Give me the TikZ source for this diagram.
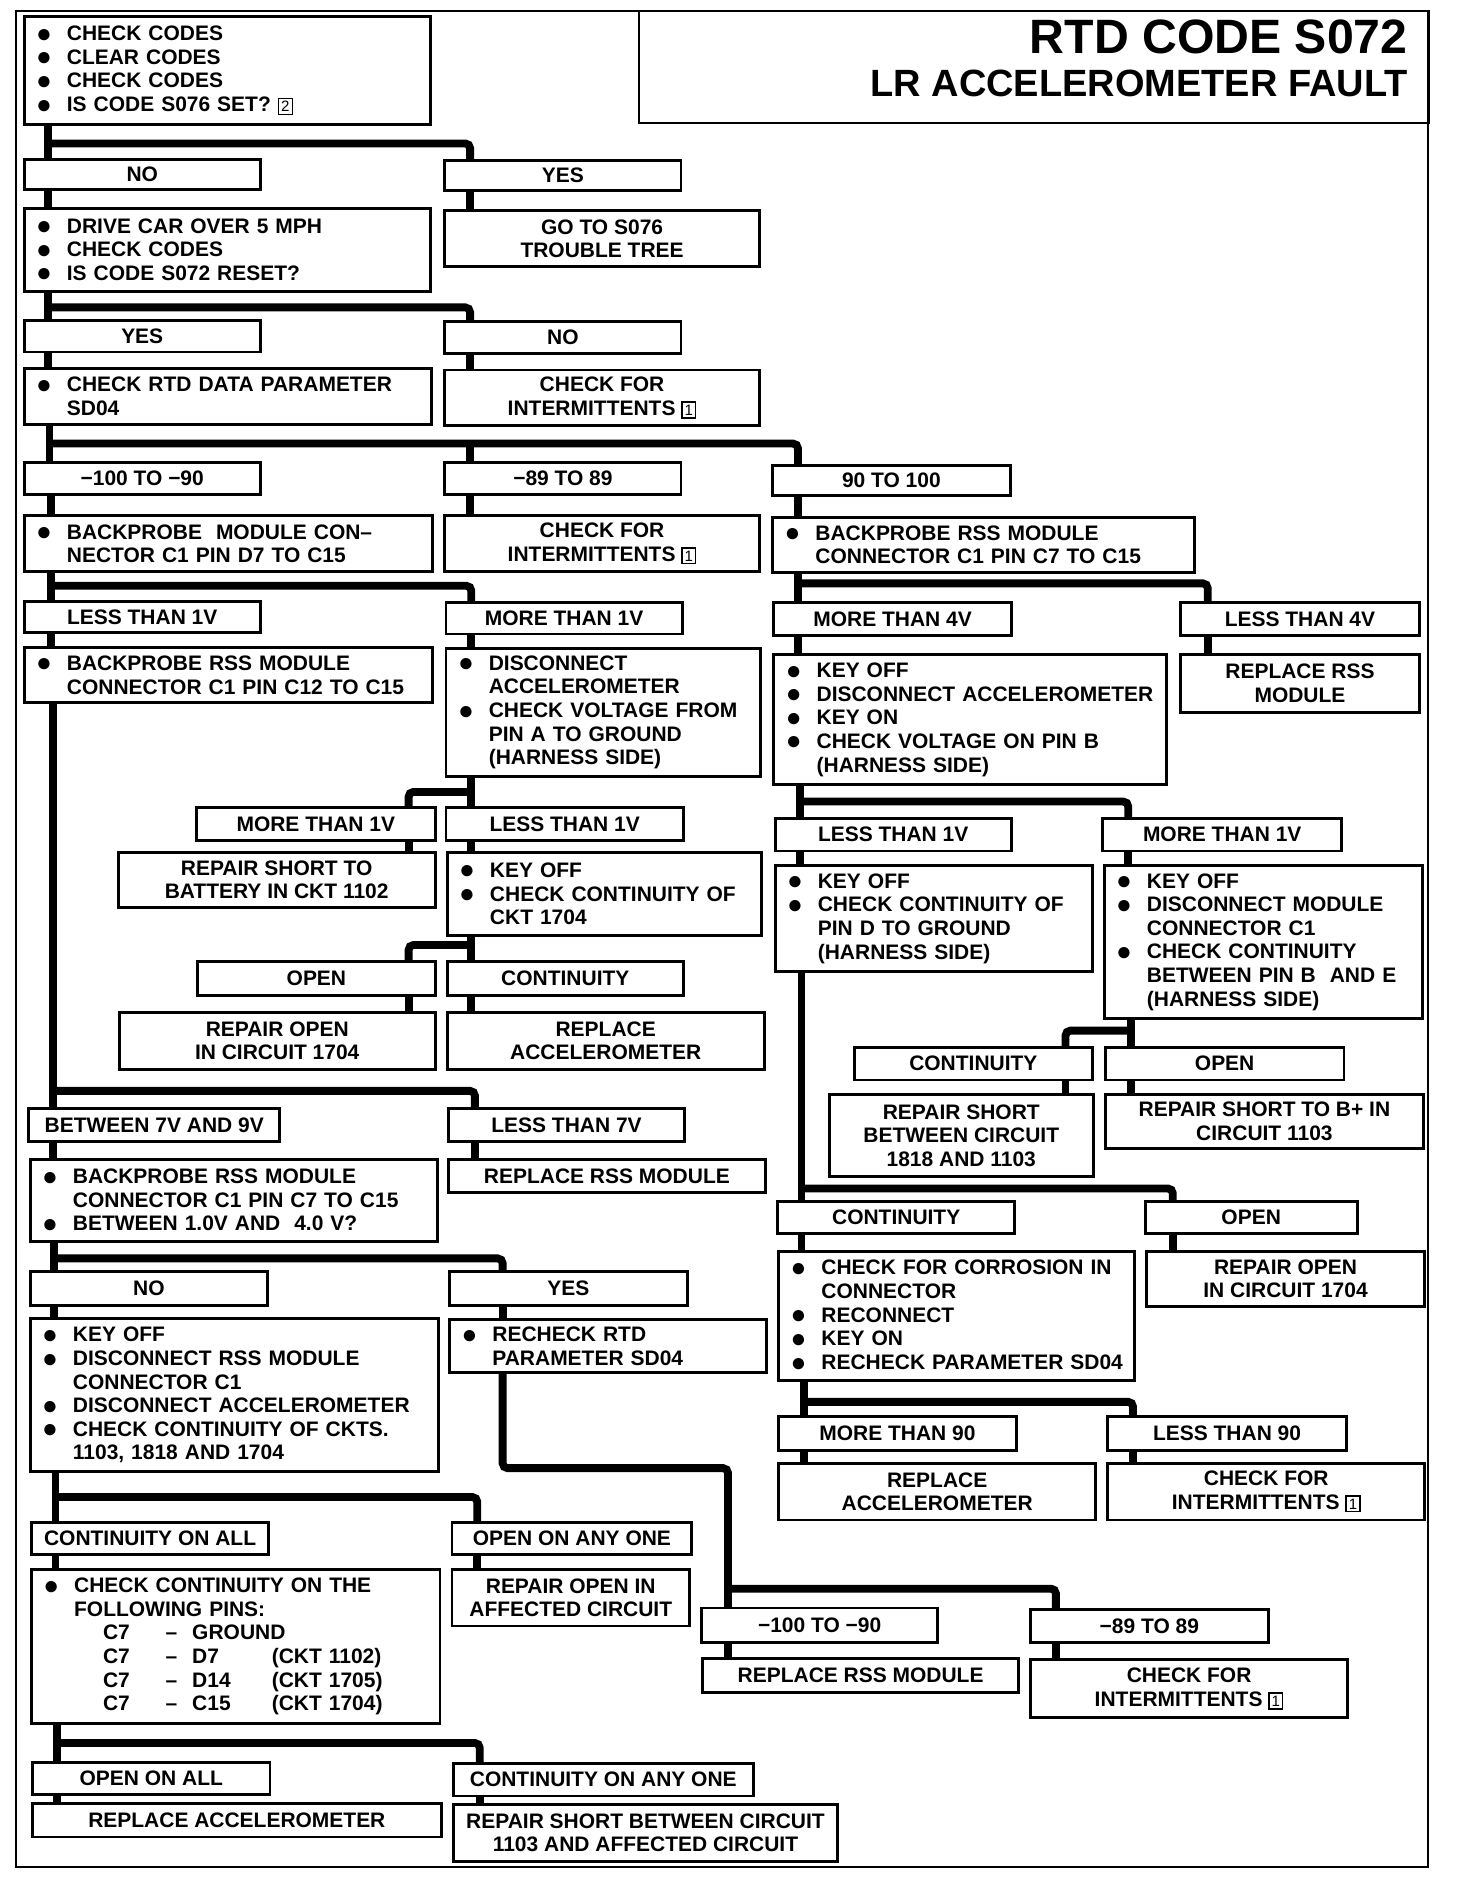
\documentclass[tikz,border=0pt]{standalone}
\usepackage{fontspec}
\setmainfont{Liberation Sans}
\usepackage{tikz}
\usetikzlibrary{calc}

\newcommand{\bitem}[1]{\mbox{\makebox[25.5pt][l]{\raisebox{-1.3pt}{\scalebox{1.25}{●}}}#1}}
\newcommand{\bcont}[1]{\mbox{\hspace*{25.5pt}#1}}
\newcommand{\noteref}[1]{{\setlength{\fboxsep}{1.6pt}\setlength{\fboxrule}{1.2pt}\fbox{\fontsize{12.5}{12.5}\selectfont\mdseries #1}}}
\newcommand{\pinrow}[3]{\bcont{\hspace*{24pt}\makebox[52pt][l]{#1}\makebox[22pt][l]{–}\makebox[66pt][l]{#2}#3}}

\begin{document}
\begin{tikzpicture}[x=1pt, y=-1pt,
    box/.style={draw, line width=2.4pt, anchor=north west, inner sep=0pt, outer sep=0pt,
                align=center, font=\fontsize{17.4}{19.6}\selectfont\bfseries},
    blist/.style={box, align=left},
    link/.style={line width=6.5pt, rounded corners=4pt}]
    \useasboundingbox (0,0) rectangle (1208,1568);

    % Frame and title
    \draw[line width=1.8pt] (13,9) rectangle (1185,1549);
    \node[draw, line width=2.2pt, anchor=north west, inner sep=0pt, outer sep=0pt,
          minimum width=655pt, minimum height=93pt] (title) at (530,9) {};
    \node[anchor=base east, inner sep=0pt, font=\fontsize{40}{44}\selectfont\bfseries] (tline1) at (1168,44) {RTD CODE S072};
    \node[anchor=base east, inner sep=0pt, font=\fontsize{31.5}{36}\selectfont\bfseries] (tline2) at (1168,80) {LR ACCELEROMETER FAULT};

    % Start
    \node[blist, minimum width=337pt, minimum height=89pt, text width=317pt] (qa) at (20,14)
        {\bitem{CHECK CODES}\\ \bitem{CLEAR CODES}\\ \bitem{CHECK CODES}\\ \bitem{IS CODE S076 SET? \noteref{2}}};
    \node[box, minimum width=196pt, minimum height=25pt] (noA) at (20,132) {NO};
    \node[box, minimum width=196pt, minimum height=25pt] (yesA) at (369,133) {YES};
    \node[blist, minimum width=337pt, minimum height=69pt, text width=317pt] (drive) at (20,173)
        {\bitem{DRIVE CAR OVER 5 MPH}\\ \bitem{CHECK CODES}\\ \bitem{IS CODE S072 RESET?}};
    \node[box, minimum width=261pt, minimum height=46pt] (goto) at (369,175) {GO TO S076\\ TROUBLE TREE};

    % Reset check
    \node[box, minimum width=196pt, minimum height=26pt] (yesB) at (20,266) {YES};
    \node[box, minimum width=196pt, minimum height=26pt] (noB) at (369,267) {NO};
    \node[blist, minimum width=338pt, minimum height=46pt, text width=318pt] (rtd) at (20,306)
        {\bitem{CHECK RTD DATA PARAMETER}\\ \bcont{SD04}};
    \node[box, minimum width=261pt, minimum height=46pt] (interA) at (369,307) {CHECK FOR\\ INTERMITTENTS \noteref{1}};

    % SD04 ranges
    \node[box, minimum width=196pt, minimum height=26pt] (rngA) at (20,384) {−100 TO −90};
    \node[box, minimum width=196pt, minimum height=26pt] (rngB) at (369,384) {−89 TO 89};
    \node[box, minimum width=197pt, minimum height=25pt] (rngC) at (641,386) {90 TO 100};
    \node[blist, minimum width=339pt, minimum height=46pt, text width=319pt] (probeA) at (20,428)
        {\bitem{BACKPROBE\ \ MODULE CON–}\\ \bcont{NECTOR C1 PIN D7 TO C15}};
    \node[box, minimum width=261pt, minimum height=46pt] (interB) at (369,428) {CHECK FOR\\ INTERMITTENTS \noteref{1}};
    \node[blist, minimum width=350pt, minimum height=46pt, text width=330pt] (probeC) at (641,429)
        {\bitem{BACKPROBE RSS MODULE}\\ \bcont{CONNECTOR C1 PIN C7 TO C15}};

    % Voltage results
    \node[box, minimum width=196pt, minimum height=26pt] (lt1a) at (20,499) {LESS THAN 1V};
    \node[box, minimum width=196pt, minimum height=26pt] (mt1a) at (370,500) {MORE THAN 1V};
    \node[box, minimum width=197pt, minimum height=27pt] (mt4) at (642,500) {MORE THAN 4V};
    \node[box, minimum width=199pt, minimum height=27pt] (lt4) at (979,500) {LESS THAN 4V};
    \node[blist, minimum width=339pt, minimum height=46pt, text width=319pt] (probeB) at (20,537)
        {\bitem{BACKPROBE RSS MODULE}\\ \bcont{CONNECTOR C1 PIN C12 TO C15}};
    \node[blist, minimum width=261pt, minimum height=106pt, text width=241pt] (discA) at (370,538)
        {\bitem{DISCONNECT}\\ \bcont{ACCELEROMETER}\\ \bitem{CHECK VOLTAGE FROM}\\ \bcont{PIN A TO GROUND}\\ \bcont{(HARNESS SIDE)}};
    \node[blist, minimum width=326pt, minimum height=108pt, text width=306pt] (keyA) at (642,543)
        {\bitem{KEY OFF}\\ \bitem{DISCONNECT ACCELEROMETER}\\ \bitem{KEY ON}\\ \bitem{CHECK VOLTAGE ON PIN B}\\ \bcont{(HARNESS SIDE)}};
    \node[box, minimum width=199pt, minimum height=48pt] (rssA) at (979,543) {REPLACE RSS\\ MODULE};

    % Pin A and pin B checks
    \node[box, minimum width=198pt, minimum height=27pt] (mt1b) at (163,670) {MORE THAN 1V};
    \node[box, minimum width=197pt, minimum height=27pt] (lt1b) at (370,670) {LESS THAN 1V};
    \node[box, minimum width=196pt, minimum height=27pt] (lt1c) at (643,679) {LESS THAN 1V};
    \node[box, minimum width=198pt, minimum height=27pt] (mt1c) at (915,679) {MORE THAN 1V};
    \node[box, minimum width=263pt, minimum height=46pt] (shortA) at (98,707) {REPAIR SHORT TO\\ BATTERY IN CKT 1102};
    \node[blist, minimum width=261pt, minimum height=69pt, text width=241pt] (keyB) at (371,707)
        {\bitem{KEY OFF}\\ \bitem{CHECK CONTINUITY OF}\\ \bcont{CKT 1704}};
    \node[blist, minimum width=263pt, minimum height=88pt, text width=243pt] (keyC) at (643,718)
        {\bitem{KEY OFF}\\ \bitem{CHECK CONTINUITY OF}\\ \bcont{PIN D TO GROUND}\\ \bcont{(HARNESS SIDE)}};
    \node[blist, minimum width=264pt, minimum height=127pt, text width=244pt] (keyD) at (916,718)
        {\bitem{KEY OFF}\\ \bitem{DISCONNECT MODULE}\\ \bcont{CONNECTOR C1}\\ \bitem{CHECK CONTINUITY}\\ \bcont{BETWEEN PIN B\ \ AND E}\\ \bcont{(HARNESS SIDE)}};

    % Circuit 1704 check
    \node[box, minimum width=197pt, minimum height=28pt] (openA) at (164,798) {OPEN};
    \node[box, minimum width=196pt, minimum height=28pt] (contA) at (371,798) {CONTINUITY};
    \node[box, minimum width=262pt, minimum height=47pt] (repOpenA) at (99,840) {REPAIR OPEN\\ IN CIRCUIT 1704};
    \node[box, minimum width=263pt, minimum height=47pt] (accelA) at (371,840) {REPLACE\\ ACCELEROMETER};
    \node[box, minimum width=197pt, minimum height=27pt] (contB) at (709,869) {CONTINUITY};
    \node[box, minimum width=198pt, minimum height=27pt] (openB) at (917,869) {OPEN};
    \node[box, minimum width=219pt, minimum height=68pt] (shortB) at (688,908) {REPAIR SHORT\\ BETWEEN CIRCUIT\\ 1818 AND 1103};
    \node[box, minimum width=264pt, minimum height=45pt] (shortC) at (917,908) {REPAIR SHORT TO B+ IN\\ CIRCUIT 1103};

    % Pin C12 result
    \node[box, minimum width=208pt, minimum height=27pt] (v79) at (24,920) {BETWEEN 7V AND 9V};
    \node[box, minimum width=196pt, minimum height=27pt] (lt7) at (372,920) {LESS THAN 7V};
    \node[blist, minimum width=338pt, minimum height=68pt, text width=318pt] (probeD) at (25,962)
        {\bitem{BACKPROBE RSS MODULE}\\ \bcont{CONNECTOR C1 PIN C7 TO C15}\\ \bitem{BETWEEN 1.0V AND\ \ 4.0 V?}};
    \node[box, minimum width=263pt, minimum height=27pt] (rssB) at (372,962) {REPLACE RSS MODULE};
    \node[box, minimum width=197pt, minimum height=26pt] (contC) at (645,997) {CONTINUITY};
    \node[box, minimum width=176pt, minimum height=26pt] (openC) at (950,997) {OPEN};
    \node[blist, minimum width=295pt, minimum height=107pt, text width=275pt] (corr) at (646,1038)
        {\bitem{CHECK FOR CORROSION IN}\\ \bcont{CONNECTOR}\\ \bitem{RECONNECT}\\ \bitem{KEY ON}\\ \bitem{RECHECK PARAMETER SD04}};
    \node[box, minimum width=231pt, minimum height=46pt] (repOpenB) at (951,1038) {REPAIR OPEN\\ IN CIRCUIT 1704};

    % Pin C7 result
    \node[box, minimum width=197pt, minimum height=28pt] (noC) at (25,1055) {NO};
    \node[box, minimum width=197pt, minimum height=28pt] (yesC) at (373,1055) {YES};
    \node[blist, minimum width=339pt, minimum height=127pt, text width=319pt] (keyE) at (25,1094)
        {\bitem{KEY OFF}\\ \bitem{DISCONNECT RSS MODULE}\\ \bcont{CONNECTOR C1}\\ \bitem{DISCONNECT ACCELEROMETER}\\ \bitem{CHECK CONTINUITY OF CKTS.}\\ \bcont{1103, 1818 AND 1704}};
    \node[blist, minimum width=263pt, minimum height=44pt, text width=243pt] (recheck) at (373,1095)
        {\bitem{RECHECK RTD}\\ \bcont{PARAMETER SD04}};
    \node[box, minimum width=197pt, minimum height=28pt] (mt90) at (646,1175) {MORE THAN 90};
    \node[box, minimum width=198pt, minimum height=28pt] (lt90) at (919,1175) {LESS THAN 90};
    \node[box, minimum width=263pt, minimum height=47pt] (accelB) at (646,1214) {REPLACE\\ ACCELEROMETER};
    \node[box, minimum width=263pt, minimum height=47pt] (interC) at (919,1214) {CHECK FOR\\ INTERMITTENTS \noteref{1}};

    % Continuity of circuits
    \node[box, minimum width=197pt, minimum height=27pt] (contAll) at (26,1263) {CONTINUITY ON ALL};
    \node[box, minimum width=199pt, minimum height=27pt] (openAny) at (375,1263) {OPEN ON ANY ONE};
    \node[blist, minimum width=339pt, minimum height=128pt, text width=319pt] (pins) at (26,1302)
        {\bitem{CHECK CONTINUITY ON THE}\\ \bcont{FOLLOWING PINS:}\\ \pinrow{C7}{GROUND}{}\\
         \pinrow{C7}{D7}{(CKT 1102)}\\ \pinrow{C7}{D14}{(CKT 1705)}\\ \pinrow{C7}{C15}{(CKT 1704)}};
    \node[box, minimum width=197pt, minimum height=47pt] (repAff) at (375,1302) {REPAIR OPEN IN\\ AFFECTED CIRCUIT};
    \node[box, minimum width=196pt, minimum height=29pt] (rngD) at (582,1334) {−100 TO −90};
    \node[box, minimum width=197pt, minimum height=28pt] (rngE) at (855,1335) {−89 TO 89};
    \node[box, minimum width=262pt, minimum height=28pt] (rssC) at (583,1376) {REPLACE RSS MODULE};
    \node[box, minimum width=263pt, minimum height=48pt] (interD) at (855,1377) {CHECK FOR\\ INTERMITTENTS \noteref{1}};

    % Short check
    \node[box, minimum width=197pt, minimum height=27pt] (openAll) at (27,1462) {OPEN ON ALL};
    \node[box, minimum width=249pt, minimum height=27pt] (contAny) at (376,1463) {CONTINUITY ON ANY ONE};
    \node[box, minimum width=339pt, minimum height=28pt] (accelC) at (27,1496) {REPLACE ACCELEROMETER};
    \node[box, minimum width=319pt, minimum height=47pt] (shortD) at (376,1497) {REPAIR SHORT BETWEEN CIRCUIT\\ 1103 AND AFFECTED CIRCUIT};

    % Branch points
    \coordinate (j1) at (40,119);   \coordinate (k1) at (390,119);
    \coordinate (j2) at (40,255);   \coordinate (k2) at (390,255);
    \coordinate (j3) at (41,368);   \coordinate (m3) at (390,368);  \coordinate (k3) at (662,368);
    \coordinate (j4) at (42,486);   \coordinate (k4) at (391,486);
    \coordinate (j5) at (662,484);  \coordinate (k5) at (1002,484);
    \coordinate (j6) at (391,657);  \coordinate (k6) at (339,657);
    \coordinate (j7) at (664,665);  \coordinate (k7) at (936,665);
    \coordinate (j8) at (391,784);  \coordinate (k8) at (339,784);
    \coordinate (j9) at (44,905);   \coordinate (k9) at (394,905);
    \coordinate (j10) at (938,855); \coordinate (k10) at (884,855);
    \coordinate (j11) at (665,986); \coordinate (k11) at (973,986);
    \coordinate (j12) at (45,1044); \coordinate (k12) at (417,1044);
    \coordinate (j13) at (667,1163); \coordinate (k13) at (940,1163);
    \coordinate (bend14) at (604,1218); \coordinate (j14) at (604,1318); \coordinate (k14) at (876,1318);
    \coordinate (j15) at (46,1242); \coordinate (k15) at (396,1242);
    \coordinate (j16) at (47,1446); \coordinate (k16) at (398,1446);

    % Connectors
    \draw[link] (qa.south -| j1) -- (noA.north -| j1);
    \draw[link] (j1) -- (k1) -- (yesA.north -| k1);
    \draw[link] (noA.south -| j1) -- (drive.north -| j1);
    \draw[link] (yesA.south -| k1) -- (goto.north -| k1);

    \draw[link] (drive.south -| j2) -- (yesB.north -| j2);
    \draw[link] (j2) -- (k2) -- (noB.north -| k2);
    \draw[link] (yesB.south -| j2) -- (rtd.north -| j2);
    \draw[link] (noB.south -| k2) -- (interA.north -| k2);

    \draw[link] (rtd.south -| j3) -- (rngA.north -| j3);
    \draw[link] (j3) -- (k3) -- (rngC.north -| k3);
    \draw[link] (m3) -- (rngB.north -| m3);
    \draw[link] (rngA.south -| j4) -- (probeA.north -| j4);
    \draw[link] (rngB.south -| m3) -- (interB.north -| m3);
    \draw[link] (rngC.south -| k3) -- (probeC.north -| k3);

    \draw[link] (probeA.south -| j4) -- (lt1a.north -| j4);
    \draw[link] (j4) -- (k4) -- (mt1a.north -| k4);
    \draw[link] (lt1a.south -| j4) -- (probeB.north -| j4);
    \draw[link] (mt1a.south -| k4) -- (discA.north -| k4);

    \draw[link] (probeC.south -| j5) -- (mt4.north -| j5);
    \draw[link] (j5) -- (k5) -- (lt4.north -| k5);
    \draw[link] (mt4.south -| j5) -- (keyA.north -| j5);
    \draw[link] (lt4.south -| k5) -- (rssA.north -| k5);

    \draw[link] (discA.south -| j6) -- (lt1b.north -| j6);
    \draw[link] (j6) -- (k6) -- (mt1b.north -| k6);
    \draw[link] (mt1b.south -| k6) -- (shortA.north -| k6);
    \draw[link] (lt1b.south -| j6) -- (keyB.north -| j6);

    \draw[link] (keyA.south -| j7) -- (lt1c.north -| j7);
    \draw[link] (j7) -- (k7) -- (mt1c.north -| k7);
    \draw[link] (lt1c.south -| j7) -- (keyC.north -| j7);
    \draw[link] (mt1c.south -| k7) -- (keyD.north -| k7);

    \draw[link] (keyB.south -| j8) -- (contA.north -| j8);
    \draw[link] (j8) -- (k8) -- (openA.north -| k8);
    \draw[link] (openA.south -| k8) -- (repOpenA.north -| k8);
    \draw[link] (contA.south -| j8) -- (accelA.north -| j8);

    \draw[link] (probeB.south -| j9) -- (v79.north -| j9);
    \draw[link] (j9) -- (k9) -- (lt7.north -| k9);
    \draw[link] (v79.south -| j9) -- (probeD.north -| j9);
    \draw[link] (lt7.south -| k9) -- (rssB.north -| k9);

    \draw[link] (keyD.south -| j10) -- (openB.north -| j10);
    \draw[link] (j10) -- (k10) -- (contB.north -| k10);
    \draw[link] (contB.south -| k10) -- (shortB.north -| k10);
    \draw[link] (openB.south -| j10) -- (shortC.north -| j10);

    \draw[link] (keyC.south -| j11) -- (contC.north -| j11);
    \draw[link] (j11) -- (k11) -- (openC.north -| k11);
    \draw[link] (contC.south -| j11) -- (corr.north -| j11);
    \draw[link] (openC.south -| k11) -- (repOpenB.north -| k11);

    \draw[link] (probeD.south -| j12) -- (noC.north -| j12);
    \draw[link] (j12) -- (k12) -- (yesC.north -| k12);
    \draw[link] (noC.south -| j12) -- (keyE.north -| j12);
    \draw[link] (yesC.south -| k12) -- (recheck.north -| k12);

    \draw[link] (corr.south -| j13) -- (mt90.north -| j13);
    \draw[link] (j13) -- (k13) -- (lt90.north -| k13);
    \draw[link] (mt90.south -| j13) -- (accelB.north -| j13);
    \draw[link] (lt90.south -| k13) -- (interC.north -| k13);

    \draw[link] (recheck.south -| k12) |- (bend14) -- (rngD.north -| bend14);
    \draw[link] (j14) -- (k14) -- (rngE.north -| k14);
    \draw[link] (rngD.south -| j14) -- (rssC.north -| j14);
    \draw[link] (rngE.south -| k14) -- (interD.north -| k14);

    \draw[link] (keyE.south -| j15) -- (contAll.north -| j15);
    \draw[link] (j15) -- (k15) -- (openAny.north -| k15);
    \draw[link] (contAll.south -| j15) -- (pins.north -| j15);
    \draw[link] (openAny.south -| k15) -- (repAff.north -| k15);

    \draw[link] (pins.south -| j16) -- (openAll.north -| j16);
    \draw[link] (j16) -- (k16) -- (contAny.north -| k16);
    \draw[link] (openAll.south -| j16) -- (accelC.north -| j16);
    \draw[link] (contAny.south -| k16) -- (shortD.north -| k16);
\end{tikzpicture}
\end{document}
